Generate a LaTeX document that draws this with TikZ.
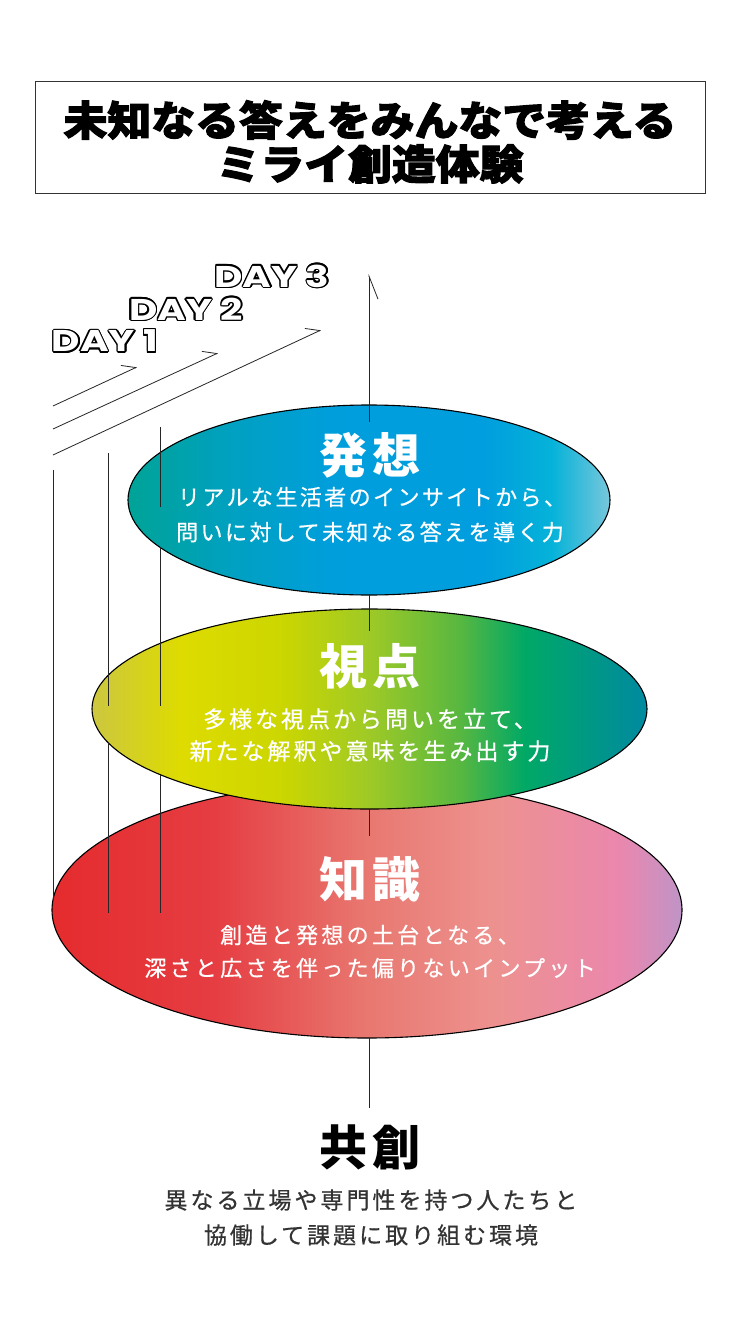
\documentclass[tikz,border=0pt]{standalone}
\usepackage{fontspec}
\usetikzlibrary{shapes.geometric,arrows.meta}

\newfontfamily\jpcap{Noto Sans CJK JP}[LetterSpace=12]
\newfontfamily\jpnarrow{Noto Sans CJK JP}[LetterSpace=11, FakeBold=0.6]
\newfontfamily\jpmid{Noto Sans CJK JP}[LetterSpace=15, FakeBold=0.6]
\newfontfamily\jpwide{Noto Sans CJK JP}[LetterSpace=13, FakeBold=0.6]
\newfontfamily\jpheavy{Noto Sans CJK JP}[BoldFeatures={FakeBold=2.5}]
\newfontfamily\dayfont{Poppins}

% colour bands of the three layers, left to right
\pgfdeclarehorizontalshading{hassoushade}{100bp}{rgb(0bp)=(0,0.64,0.59); rgb(25bp)=(0,0.64,0.59);
  rgb(36bp)=(0,0.63,0.76); rgb(46bp)=(0,0.62,0.86); rgb(62bp)=(0,0.62,0.87);
  rgb(69bp)=(0.02,0.70,0.85); rgb(75bp)=(0.47,0.78,0.86); rgb(100bp)=(0.47,0.78,0.86)}
\pgfdeclarehorizontalshading{shitenshade}{100bp}{rgb(0bp)=(0.80,0.78,0.25); rgb(25bp)=(0.80,0.78,0.25);
  rgb(33bp)=(0.87,0.86,0.0); rgb(42bp)=(0.80,0.84,0.0); rgb(50bp)=(0.62,0.79,0.15);
  rgb(58bp)=(0.35,0.72,0.25); rgb(64bp)=(0.0,0.66,0.40); rgb(75bp)=(0.0,0.54,0.63);
  rgb(100bp)=(0.0,0.54,0.63)}
\pgfdeclarehorizontalshading{chishikishade}{100bp}{rgb(0bp)=(0.90,0.17,0.18); rgb(25bp)=(0.90,0.17,0.18);
  rgb(38bp)=(0.90,0.24,0.26); rgb(50bp)=(0.91,0.47,0.44); rgb(60bp)=(0.93,0.57,0.56);
  rgb(70bp)=(0.92,0.53,0.68); rgb(75bp)=(0.75,0.58,0.78); rgb(100bp)=(0.75,0.58,0.78)}

\tikzset{
  layer/.style={ellipse, draw=black, line width=1.1pt, inner sep=0pt},
  dayline/.style={draw=black!85, line width=0.8pt},
  daytip/.style={-{Straight Barb[harpoon, length=12.6pt, width=16.4pt]}},
  uptip/.style={-{Straight Barb[harpoon, swap, length=23pt, width=18pt]}},
  ttltxt/.style={inner sep=0pt, font=\jpheavy\bfseries\fontsize{41}{41}\selectfont},
  captxt/.style={inner sep=0pt, font=\jpcap\bfseries\fontsize{48}{50}\selectfont},
  bodytxt/.style={inner sep=0pt, font=\jpmid\fontsize{22}{24}\selectfont},
  daytxt/.style={inner sep=0pt, font=\dayfont\bfseries\fontsize{30}{30}\selectfont}
}

% hollow day label: black copies round a white one
\newcommand{\daylabel}[3]{%
  \foreach \a in {0,30,...,330}
    \node[daytxt, text=black, shift={(\a:1.4)}] (#1-\a) at #2 {\scalebox{1.3}[1]{#3}};
  \node[daytxt, text=white] (#1) at #2 {\scalebox{1.3}[1]{#3}};
}

\begin{document}
\begin{tikzpicture}[x=1pt,y=-1pt]
  \fill[white] (0,0) rectangle (740,1332);
  \useasboundingbox (0,0) rectangle (740,1332);

  % heading
  \node[draw=black!80, line width=1pt, minimum width=670pt, minimum height=112pt, inner sep=0pt]
    (titlebox) at (370,138) {};
  \node[ttltxt] (title1) at (370,120) {\scalebox{1.07}[1]{未知なる答えをみんなで考える}};
  \node[ttltxt] (title2) at (370,164) {\scalebox{1.07}[1]{ミライ創造体験}};

  % layers, lowest first
  \node[layer, minimum width=630pt, minimum height=256pt, shading=chishikishade] (chishiki) at (367,910) {};
  \node[layer, minimum width=555pt, minimum height=200pt, shading=shitenshade] (shiten) at (369.5,709) {};
  \node[layer, minimum width=482pt, minimum height=190pt, shading=hassoushade] (hassou) at (369,500) {};

  % day labels
  \daylabel{day1}{(105,341)}{DAY 1}
  \daylabel{day2}{(186,309)}{DAY 2}
  \daylabel{day3}{(272,276)}{DAY 3}

  % rising day lines
  \coordinate (d1a) at (53,406);  \coordinate (d1b) at (137,367);
  \coordinate (d2a) at (53,429);  \coordinate (d2b) at (218,353);
  \coordinate (d3a) at (53,455);  \coordinate (d3b) at (321,330);
  \draw[dayline, daytip] (d1a) -- (d1b);
  \draw[dayline, daytip] (d2a) -- (d2b);
  \draw[dayline, daytip] (d3a) -- (d3b);

  % vertical lines, cut where a layer hides them
  \coordinate (axtop) at (369,274);
  \coordinate (axin) at (369,422);
  \draw[dayline, uptip] (axin) -- (axtop);
  \draw[dayline] (369,595) -- (369,631);
  \draw[dayline] (369,809) -- (369,836);
  \draw[dayline] (369,1038) -- (369,1108);

  \draw[dayline] (160,427) -- (160,507);
  \draw[dayline] (160,547) -- (160,706);
  \draw[dayline] (160,775) -- (160,913);
  \draw[dayline] (108,453) -- (108,706);
  \draw[dayline] (108,742) -- (108,913);
  \draw[dayline] (53,470) -- (53,899);

  % texts on the layers
  \node[captxt, text=white] (hassouT) at (370,455) {発想};
  \node[bodytxt, font=\jpnarrow\fontsize{22}{24}\selectfont, text=white] (hassouA) at (372,497) {リアルな生活者のインサイトから、};
  \node[bodytxt, font=\jpnarrow\fontsize{22}{24}\selectfont, text=white] (hassouB) at (370,532) {問いに対して未知なる答えを導く力};

  \node[captxt, text=white] (shitenT) at (370,666) {視点};
  \node[bodytxt, font=\jpwide\fontsize{23}{25}\selectfont, text=white] (shitenA) at (370,719) {多様な視点から問いを立て、};
  \node[bodytxt, font=\jpwide\fontsize{23}{25}\selectfont, text=white] (shitenB) at (370,751) {新たな解釈や意味を生み出す力};

  \node[captxt, text=white] (chishikiT) at (370,879) {知識};
  \node[bodytxt, text=white] (chishikiA) at (370,935) {創造と発想の土台となる、};
  \node[bodytxt, text=white] (chishikiB) at (370,968) {深さと広さを伴った偏りないインプット};

  % base
  \node[captxt, text=black] (kyousouT) at (370,1147) {共創};
  \node[bodytxt, font=\jpwide\fontsize{23}{25}\selectfont, text=black!80] (kyousouA) at (371,1200) {異なる立場や専門性を持つ人たちと};
  \node[bodytxt, font=\jpwide\fontsize{23}{25}\selectfont, text=black!80] (kyousouB) at (371,1235) {協働して課題に取り組む環境};
\end{tikzpicture}
\end{document}
